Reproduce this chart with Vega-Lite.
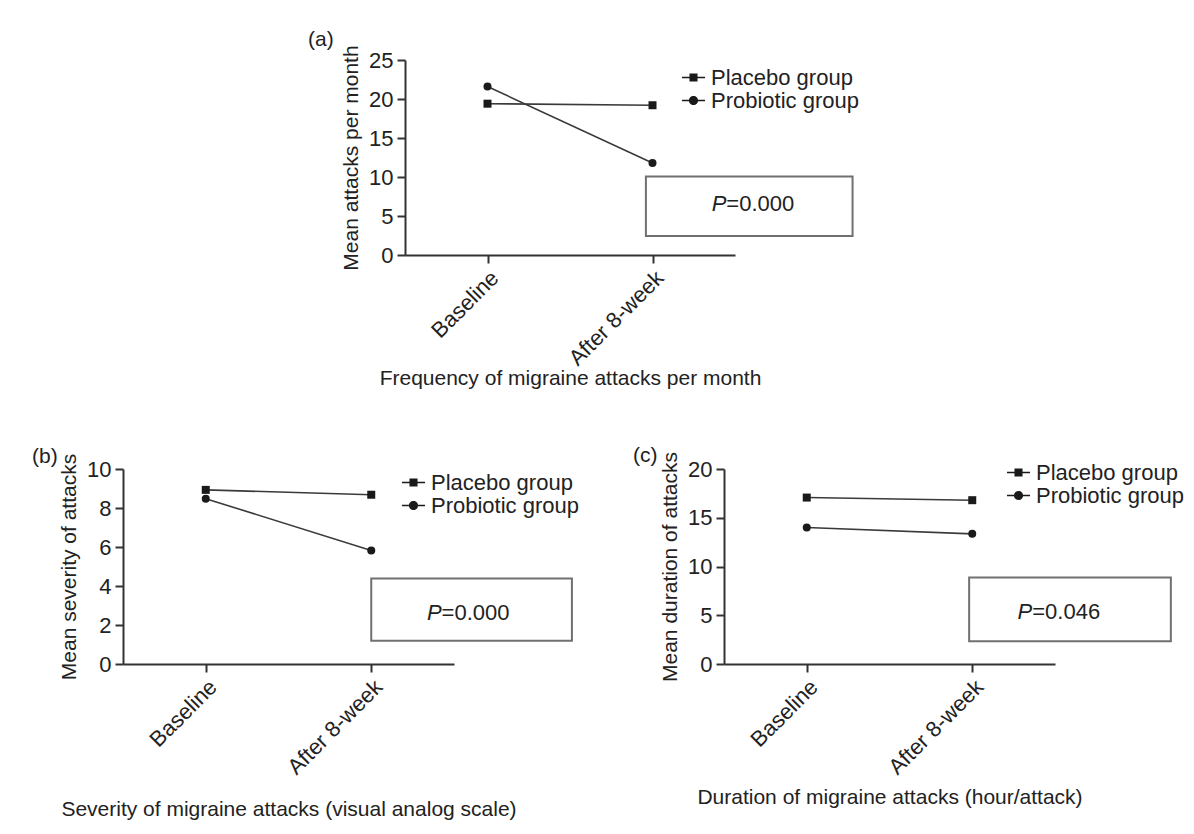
{
  "$schema": "https://vega.github.io/schema/vega-lite/v6.json",
  "background": "white",
  "padding": {"left": 32, "top": 28, "right": 8, "bottom": 8},
  "config": {
    "font": "Liberation Sans",
    "view": {"stroke": null},
    "axis": {
      "domainColor": "#333333", "domainWidth": 2,
      "tickColor": "#333333", "tickWidth": 2, "tickSize": 8,
      "labelFont": "Liberation Sans", "labelFontSize": 22, "labelColor": "#222222",
      "titleFont": "Liberation Sans", "titleFontSize": 21, "titleFontWeight": "normal", "titleColor": "#222222",
      "grid": false, "labelPadding": 4, "labelOverlap": false
    },
    "title": {"font": "Liberation Sans", "fontSize": 21, "fontWeight": "normal", "color": "#222222"},
    "legend": {"labelFont": "Liberation Sans", "labelFontSize": 22, "labelColor": "#222222", "symbolFillColor": "#1a1a1a", "symbolStrokeWidth": 0, "symbolOpacity": 1}
  },
  "bounds": "flush",
  "spacing": 409,
  "vconcat": [
    {
      "bounds": "flush",
      "spacing": 0,
      "hconcat": [
        {"width": 282, "height": 195, "data": {"values": []}, "mark": "point", "encoding": {}},
        {
          "width": 330, "height": 195,
          "title": {"text": "(a)", "anchor": "start", "frame": "group", "dx": -97, "offset": -5},
          "data": {"values": [
            {"week": 0, "time": "Baseline", "group": "Placebo group", "value": 19.4},
            {"week": 8, "time": "After 8-week", "group": "Placebo group", "value": 19.2},
            {"week": 0, "time": "Baseline", "group": "Probiotic group", "value": 21.6},
            {"week": 8, "time": "After 8-week", "group": "Probiotic group", "value": 11.8}
          ]},
          "resolve": {"scale": {"shape": "independent"}},
          "layer": [
            {
              "mark": {"type": "line", "color": "#3a3a3a", "strokeWidth": 1.6},
              "encoding": {
                "x": {"field": "week", "type": "quantitative", "scale": {"domain": [-4, 12], "nice": false, "zero": false},
                  "axis": {"values": [0, 8], "tickCount": 10, "labelExpr": "datum.value == 0 ? 'Baseline' : 'After 8-week'", "labelAngle": -45, "labelOverlap": false, "title": "Frequency of migraine attacks per month", "titlePadding": -2}},
                "y": {"field": "value", "type": "quantitative", "scale": {"domain": [0, 25], "nice": false},
                  "axis": {"values": [0, 5, 10, 15, 20, 25], "tickCount": 10, "labelOverlap": false, "title": "Mean attacks per month", "titlePadding": 7}},
                "detail": {"field": "group"}
              }
            },
            {
              "mark": {"type": "point", "filled": true, "color": "#1a1a1a", "size": 64, "opacity": 1},
              "encoding": {
                "x": {"field": "week", "type": "quantitative"},
                "y": {"field": "value", "type": "quantitative"},
                "shape": {"field": "group", "type": "nominal", "scale": {"domain": ["Placebo group", "Probiotic group"], "range": ["square", "circle"]}, "legend": null}
              }
            },
            {
              "mark": {"type": "point", "filled": true, "color": "#1a1a1a", "size": 529, "opacity": 0},
              "encoding": {
                "x": {"field": "week", "type": "quantitative"},
                "y": {"field": "value", "type": "quantitative"},
                "shape": {"field": "group", "type": "nominal",
                  "scale": {"domain": ["Placebo group", "Probiotic group"], "range": ["M-1,-0.07L1,-0.07L1,0.07L-1,0.07ZM-0.35,-0.35L0.35,-0.35L0.35,0.35L-0.35,0.35Z", "M-1,-0.07L1,-0.07L1,0.07L-1,0.07ZM-0.4,0A0.4,0.4,0,1,1,0.4,0A0.4,0.4,0,1,1,-0.4,0Z"]},
                  "legend": {"orient": "none", "legendX": 277, "legendY": 6, "title": null, "symbolSize": 529, "labelOffset": 6, "rowPadding": 0, "padding": 0,
                    "encode": {"symbols": {"update": {"opacity": {"value": 1}, "fill": {"value": "#1a1a1a"}, "fillOpacity": {"value": 1}, "strokeWidth": {"value": 0}, "size": {"value": 529}}}}}}
              }
            },
            {
              "data": {"values": [{"label": "P=0.000"}]},
              "mark": {"type": "rect", "fill": "white", "stroke": "#707070", "strokeWidth": 2},
              "encoding": {
                "x": {"datum": 7.68, "type": "quantitative"}, "x2": {"datum": 17.7},
                "y": {"datum": 2.44, "type": "quantitative"}, "y2": {"datum": 10.05}
              }
            },
            {
              "data": {"values": [{"p": "P"}]},
              "mark": {"type": "text", "align": "right", "baseline": "middle", "fontSize": 22, "fontStyle": "italic", "color": "#222222"},
              "encoding": {"x": {"datum": 11.58, "type": "quantitative"}, "y": {"datum": 6.5, "type": "quantitative"}, "text": {"field": "p"}}
            },
            {
              "data": {"values": [{"v": "=0.000"}]},
              "mark": {"type": "text", "align": "left", "baseline": "middle", "fontSize": 22, "color": "#222222"},
              "encoding": {"x": {"datum": 11.58, "type": "quantitative"}, "y": {"datum": 6.5, "type": "quantitative"}, "text": {"field": "v"}}
            }
          ]
        }
      ]
    },
    {
      "bounds": "flush",
      "spacing": 270,
      "hconcat": [
        {
          "width": 331, "height": 195,
          "title": {"text": "(b)", "anchor": "start", "frame": "group", "dx": -91, "offset": -14},
          "data": {"values": [
            {"week": 0, "time": "Baseline", "group": "Placebo group", "value": 8.93},
            {"week": 8, "time": "After 8-week", "group": "Placebo group", "value": 8.68},
            {"week": 0, "time": "Baseline", "group": "Probiotic group", "value": 8.48},
            {"week": 8, "time": "After 8-week", "group": "Probiotic group", "value": 5.82}
          ]},
          "resolve": {"scale": {"shape": "independent"}},
          "layer": [
            {
              "mark": {"type": "line", "color": "#3a3a3a", "strokeWidth": 1.6},
              "encoding": {
                "x": {"field": "week", "type": "quantitative", "scale": {"domain": [-4, 12], "nice": false, "zero": false},
                  "axis": {"values": [0, 8], "tickCount": 10, "labelExpr": "datum.value == 0 ? 'Baseline' : 'After 8-week'", "labelAngle": -45, "labelOverlap": false, "title": "Severity of migraine attacks (visual analog scale)", "titlePadding": 20}},
                "y": {"field": "value", "type": "quantitative", "scale": {"domain": [0, 10], "nice": false},
                  "axis": {"values": [0, 2, 4, 6, 8, 10], "tickCount": 10, "labelOverlap": false, "title": "Mean severity of attacks", "titlePadding": 7}},
                "detail": {"field": "group"}
              }
            },
            {
              "mark": {"type": "point", "filled": true, "color": "#1a1a1a", "size": 64, "opacity": 1},
              "encoding": {
                "x": {"field": "week", "type": "quantitative"},
                "y": {"field": "value", "type": "quantitative"},
                "shape": {"field": "group", "type": "nominal", "scale": {"domain": ["Placebo group", "Probiotic group"], "range": ["square", "circle"]}, "legend": null}
              }
            },
            {
              "mark": {"type": "point", "filled": true, "color": "#1a1a1a", "size": 529, "opacity": 0},
              "encoding": {
                "x": {"field": "week", "type": "quantitative"},
                "y": {"field": "value", "type": "quantitative"},
                "shape": {"field": "group", "type": "nominal",
                  "scale": {"domain": ["Placebo group", "Probiotic group"], "range": ["M-1,-0.07L1,-0.07L1,0.07L-1,0.07ZM-0.35,-0.35L0.35,-0.35L0.35,0.35L-0.35,0.35Z", "M-1,-0.07L1,-0.07L1,0.07L-1,0.07ZM-0.4,0A0.4,0.4,0,1,1,0.4,0A0.4,0.4,0,1,1,-0.4,0Z"]},
                  "legend": {"orient": "none", "legendX": 279, "legendY": 2, "title": null, "symbolSize": 529, "labelOffset": 6, "rowPadding": 0, "padding": 0,
                    "encode": {"symbols": {"update": {"opacity": {"value": 1}, "fill": {"value": "#1a1a1a"}, "fillOpacity": {"value": 1}, "strokeWidth": {"value": 0}, "size": {"value": 529}}}}}}
              }
            },
            {
              "data": {"values": [{"label": "P=0.000"}]},
              "mark": {"type": "rect", "fill": "white", "stroke": "#707070", "strokeWidth": 2},
              "encoding": {
                "x": {"datum": 8.0, "type": "quantitative"}, "x2": {"datum": 17.7},
                "y": {"datum": 1.19, "type": "quantitative"}, "y2": {"datum": 4.38}
              }
            },
            {
              "data": {"values": [{"p": "P"}]},
              "mark": {"type": "text", "align": "right", "baseline": "middle", "fontSize": 22, "fontStyle": "italic", "color": "#222222"},
              "encoding": {"x": {"datum": 11.4, "type": "quantitative"}, "y": {"datum": 2.64, "type": "quantitative"}, "text": {"field": "p"}}
            },
            {
              "data": {"values": [{"v": "=0.000"}]},
              "mark": {"type": "text", "align": "left", "baseline": "middle", "fontSize": 22, "color": "#222222"},
              "encoding": {"x": {"datum": 11.4, "type": "quantitative"}, "y": {"datum": 2.64, "type": "quantitative"}, "text": {"field": "v"}}
            }
          ]
        },
        {
          "width": 331, "height": 195,
          "title": {"text": "(c)", "anchor": "start", "frame": "group", "dx": -91, "offset": -14},
          "data": {"values": [
            {"week": 0, "time": "Baseline", "group": "Placebo group", "value": 17.07},
            {"week": 8, "time": "After 8-week", "group": "Placebo group", "value": 16.8},
            {"week": 0, "time": "Baseline", "group": "Probiotic group", "value": 14.0},
            {"week": 8, "time": "After 8-week", "group": "Probiotic group", "value": 13.35}
          ]},
          "resolve": {"scale": {"shape": "independent"}},
          "layer": [
            {
              "mark": {"type": "line", "color": "#3a3a3a", "strokeWidth": 1.6},
              "encoding": {
                "x": {"field": "week", "type": "quantitative", "scale": {"domain": [-4, 12], "nice": false, "zero": false},
                  "axis": {"values": [0, 8], "tickCount": 10, "labelExpr": "datum.value == 0 ? 'Baseline' : 'After 8-week'", "labelAngle": -45, "labelOverlap": false, "title": "Duration of migraine attacks (hour/attack)", "titlePadding": 8}},
                "y": {"field": "value", "type": "quantitative", "scale": {"domain": [0, 20], "nice": false},
                  "axis": {"values": [0, 5, 10, 15, 20], "tickCount": 10, "labelOverlap": false, "title": "Mean duration of attacks", "titlePadding": 7}},
                "detail": {"field": "group"}
              }
            },
            {
              "mark": {"type": "point", "filled": true, "color": "#1a1a1a", "size": 64, "opacity": 1},
              "encoding": {
                "x": {"field": "week", "type": "quantitative"},
                "y": {"field": "value", "type": "quantitative"},
                "shape": {"field": "group", "type": "nominal", "scale": {"domain": ["Placebo group", "Probiotic group"], "range": ["square", "circle"]}, "legend": null}
              }
            },
            {
              "mark": {"type": "point", "filled": true, "color": "#1a1a1a", "size": 529, "opacity": 0},
              "encoding": {
                "x": {"field": "week", "type": "quantitative"},
                "y": {"field": "value", "type": "quantitative"},
                "shape": {"field": "group", "type": "nominal",
                  "scale": {"domain": ["Placebo group", "Probiotic group"], "range": ["M-1,-0.07L1,-0.07L1,0.07L-1,0.07ZM-0.35,-0.35L0.35,-0.35L0.35,0.35L-0.35,0.35Z", "M-1,-0.07L1,-0.07L1,0.07L-1,0.07ZM-0.4,0A0.4,0.4,0,1,1,0.4,0A0.4,0.4,0,1,1,-0.4,0Z"]},
                  "legend": {"orient": "none", "legendX": 283, "legendY": -8, "title": null, "symbolSize": 529, "labelOffset": 6, "rowPadding": 0, "padding": 0,
                    "encode": {"symbols": {"update": {"opacity": {"value": 1}, "fill": {"value": "#1a1a1a"}, "fillOpacity": {"value": 1}, "strokeWidth": {"value": 0}, "size": {"value": 529}}}}}}
              }
            },
            {
              "data": {"values": [{"label": "P=0.046"}]},
              "mark": {"type": "rect", "fill": "white", "stroke": "#707070", "strokeWidth": 2},
              "encoding": {
                "x": {"datum": 7.85, "type": "quantitative"}, "x2": {"datum": 17.6},
                "y": {"datum": 2.33, "type": "quantitative"}, "y2": {"datum": 8.87}
              }
            },
            {
              "data": {"values": [{"p": "P"}]},
              "mark": {"type": "text", "align": "right", "baseline": "middle", "fontSize": 22, "fontStyle": "italic", "color": "#222222"},
              "encoding": {"x": {"datum": 10.9, "type": "quantitative"}, "y": {"datum": 5.32, "type": "quantitative"}, "text": {"field": "p"}}
            },
            {
              "data": {"values": [{"v": "=0.046"}]},
              "mark": {"type": "text", "align": "left", "baseline": "middle", "fontSize": 22, "color": "#222222"},
              "encoding": {"x": {"datum": 10.9, "type": "quantitative"}, "y": {"datum": 5.32, "type": "quantitative"}, "text": {"field": "v"}}
            }
          ]
        }
      ]
    }
  ]
}
